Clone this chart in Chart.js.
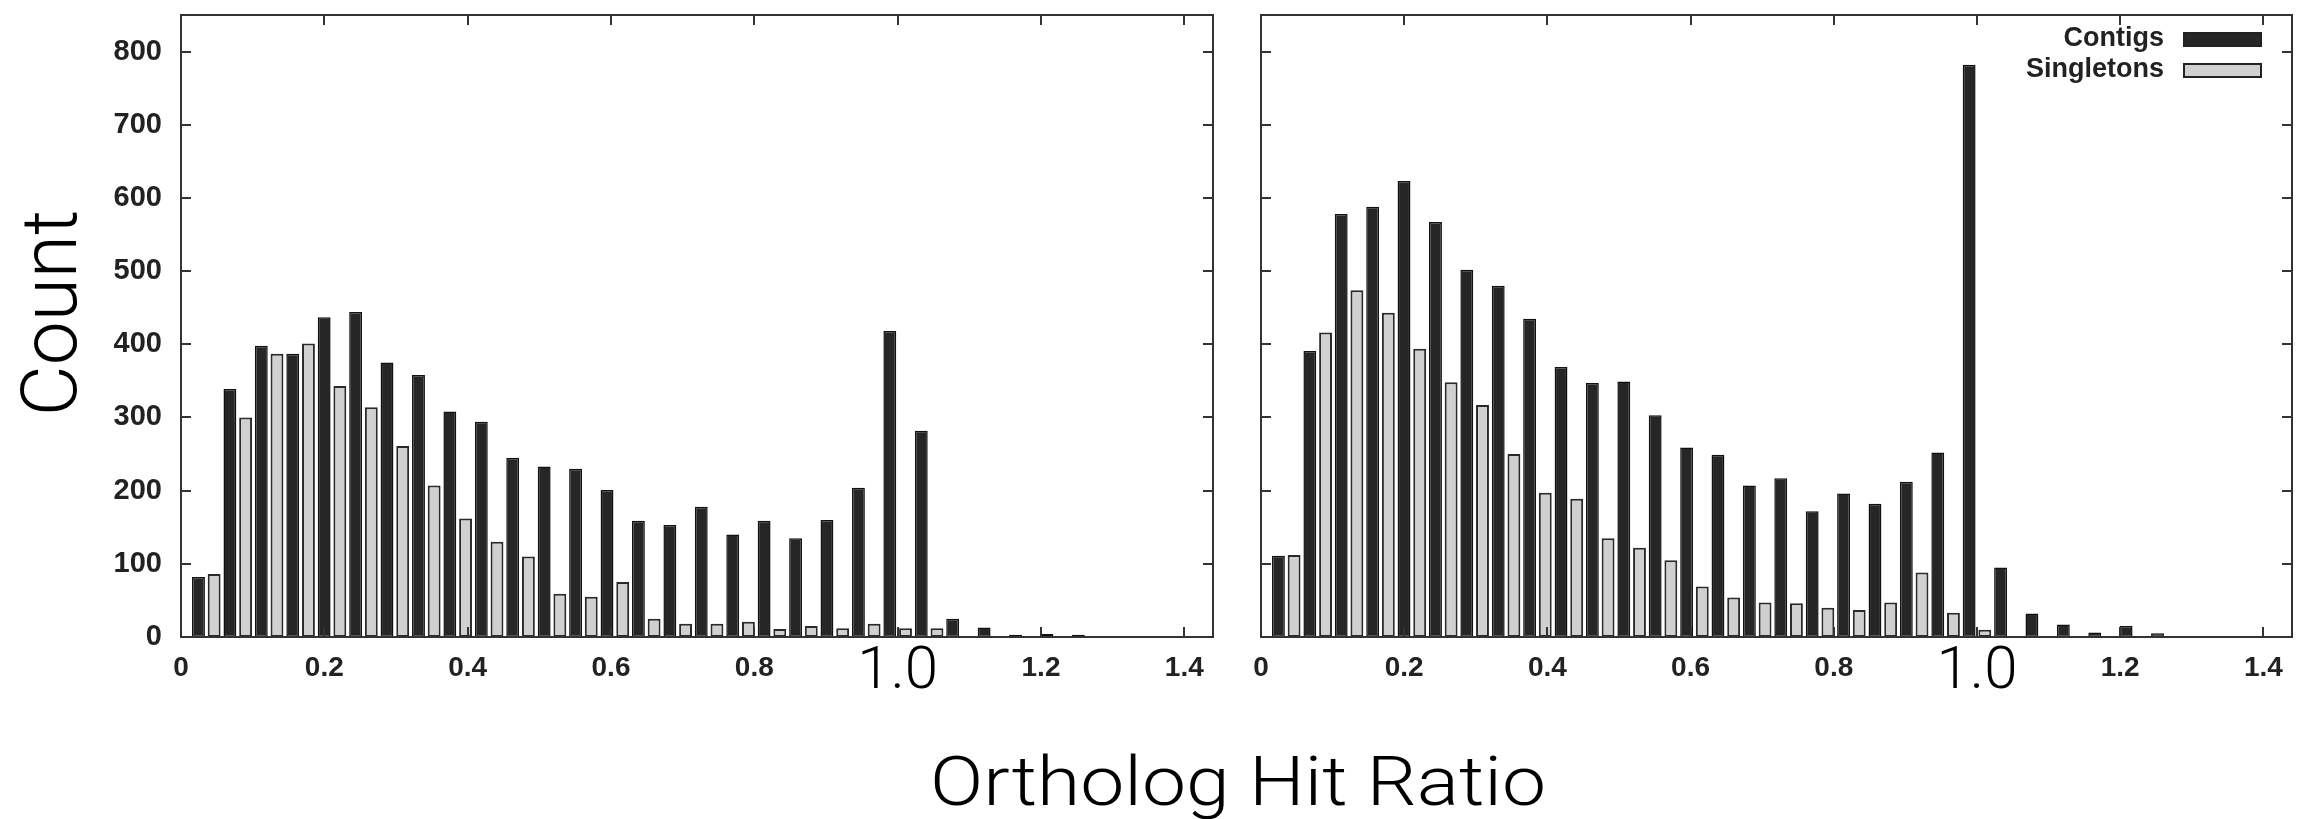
<!DOCTYPE html>
<html>
<head>
<meta charset="utf-8">
<script src="https://cdn.jsdelivr.net/npm/chart.js"></script>
<style>
body { margin:0; background:#fff; width:2299px; height:819px; overflow:hidden; position:relative; }
canvas { position:absolute; top:0; }
#left { left:0; }
#right { left:1236px; }
.title { position:absolute; font-family:Roboto, "Open Sans", "Liberation Sans", sans-serif; font-weight:300; color:#000; white-space:nowrap; text-align:center; }
#ytitle { font-size:77px; line-height:80px; width:400px; height:80px; left:-150px; top:273px; transform:rotate(-90deg) scaleX(1.02); }
#xtitle { font-size:69px; line-height:69px; width:1000px; left:738px; top:747px; transform:scaleX(1.14); }
</style>
</head>
<body>
<canvas id="left" width="1236" height="720"></canvas>
<canvas id="right" width="1063" height="720"></canvas>
<div id="ytitle" class="title">Count</div>
<div id="xtitle" class="title">Ortholog Hit Ratio</div>
<script>
// bin centres (ortholog hit ratio)
var binCenters = [0.0353, 0.0792, 0.1230, 0.1669, 0.2107, 0.2546, 0.2984, 0.3423, 0.3861, 0.4300,
                  0.4738, 0.5177, 0.5615, 0.6054, 0.6492, 0.6931, 0.7369, 0.7808, 0.8246, 0.8685,
                  0.9123, 0.9562, 1.0000, 1.0439, 1.0877, 1.1316, 1.1754, 1.2193, 1.2631, 1.3070];
var seriesNames = ['Contigs', 'Singletons'];

// left panel
var contigsA = [82, 339, 398, 387, 437, 444, 375, 358, 308, 294,
                245, 233, 230, 201, 159, 153, 178, 140, 159, 135,
                160, 204, 418, 282, 25, 13, 3, 4, 3, 1];
var singletonsA = [86, 300, 387, 401, 343, 314, 261, 207, 162, 130,
                   110, 59, 55, 75, 25, 18, 18, 21, 11, 15,
                   12, 18, 12, 12, 0, 0, 0, 0, 0, 0];

// right panel
var contigsB = [111, 391, 578, 588, 623, 567, 502, 480, 435, 369,
                347, 349, 303, 259, 249, 207, 217, 172, 196, 182,
                212, 252, 782, 95, 32, 17, 6, 15, 5, 1];
var singletonsB = [112, 416, 474, 443, 394, 348, 317, 250, 197, 189,
                   135, 122, 105, 69, 54, 47, 46, 40, 37, 47,
                   88, 33, 10, 0, 0, 0, 0, 0, 0, 0];

var xTickLabels = ['0', '0.2', '0.4', '0.6', '0.8', '1.0', '1.2', '1.4'];
var yTickLabels = ['0', '100', '200', '300', '400', '500', '600', '700', '800'];

var tickFont = { family: '"Liberation Sans", Arial, sans-serif', size: 28, weight: 'bold' };
var bigFont = { family: 'Roboto, "Open Sans", "Liberation Sans", sans-serif', size: 60, weight: '300', lineHeight: 0.73 };

// gnuplot style box + inward ticks
var framePlugin = {
    id: 'frame',
    afterDatasetsDraw: function(chart) {
        var ctx = chart.ctx, a = chart.chartArea;
        var xs = chart.scales.x, ys = chart.scales.y;
        ctx.save();
        ctx.strokeStyle = '#333';
        ctx.lineWidth = 2;
        ctx.strokeRect(a.left, a.top, a.right - a.left, a.bottom - a.top);
        ctx.beginPath();
        ys.ticks.forEach(function(t) {
            var y = Math.round(ys.getPixelForValue(t.value));
            ctx.moveTo(a.left, y); ctx.lineTo(a.left + 10, y);
            ctx.moveTo(a.right, y); ctx.lineTo(a.right - 10, y);
        });
        xs.ticks.forEach(function(t) {
            var x = Math.round(xs.getPixelForValue(t.value));
            ctx.moveTo(x, a.bottom); ctx.lineTo(x, a.bottom - 10);
            ctx.moveTo(x, a.top); ctx.lineTo(x, a.top + 10);
        });
        ctx.stroke();
        ctx.restore();
    }
};

// legend: label on the left, sample box on the right
var boxLegend = {
    id: 'boxLegend',
    afterDraw: function(chart) {
        if (!chart.options.plugins.boxLegend || !chart.options.plugins.boxLegend.show) return;
        var ctx = chart.ctx, a = chart.chartArea;
        ctx.save();
        chart.data.datasets.forEach(function(ds, i) {
            var bx = a.right - 109, by = a.top + 17 + i * 31;
            ctx.fillStyle = ds.backgroundColor;
            ctx.fillRect(bx, by, 79, 15);
            ctx.strokeStyle = '#222';
            ctx.lineWidth = 2;
            ctx.strokeRect(bx + 1, by + 1, 77, 13);
            ctx.fillStyle = '#222';
            ctx.font = 'bold 27px "Liberation Sans", Arial, sans-serif';
            ctx.textAlign = 'right';
            ctx.textBaseline = 'alphabetic';
            ctx.fillText(ds.label, bx - 19, by + 14);
        });
        ctx.restore();
    }
};

function makeChart(id, contigs, singletons, yWidth, padRight, showYLabels, showLegend) {
    return new Chart(document.getElementById(id), {
        type: 'bar',
        data: {
            datasets: [{
                label: seriesNames[0],
                data: binCenters.map(function(x, i) { return { x: x, y: contigs[i] }; }),
                backgroundColor: '#262626',
                borderColor: '#111',
                borderWidth: 1.5,
                borderSkipped: false
            }, {
                label: seriesNames[1],
                data: binCenters.map(function(x, i) { return { x: x, y: singletons[i] }; }),
                backgroundColor: '#d0d0d0',
                borderColor: '#2a2a2a',
                borderWidth: 2,
                borderSkipped: false
            }]
        },
        options: {
            responsive: false,
            animation: false,
            categoryPercentage: 1.0,
            barPercentage: 0.82,
            layout: { padding: { top: 15, right: padRight, left: 0, bottom: 0 } },
            plugins: {
                legend: { display: false },
                tooltip: { enabled: false },
                boxLegend: { show: showLegend }
            },
            scales: {
                x: {
                    type: 'linear',
                    offset: false,
                    min: 0,
                    max: 1.44,
                    grid: { display: false, drawTicks: false, offset: false },
                    border: { display: false },
                    afterFit: function(s) { s.height = 83; s.paddingLeft = 0; s.paddingRight = 0; },
                    ticks: {
                        stepSize: 0.2,
                        includeBounds: false,
                        maxRotation: 0,
                        padding: 14,
                        color: function(c) { return Math.abs(c.tick.value - 1) < 1e-9 ? '#000' : '#222'; },
                        font: function(c) { return (c.tick && Math.abs(c.tick.value - 1) < 1e-9) ? bigFont : tickFont; },
                        callback: function(v, i) { return xTickLabels[i]; }
                    }
                },
                y: {
                    min: 0,
                    max: 850,
                    grid: { display: false, drawTicks: false },
                    border: { display: false },
                    afterFit: function(s) { s.width = yWidth; s.paddingTop = 0; s.paddingBottom = 0; },
                    ticks: {
                        display: showYLabels,
                        stepSize: 100,
                        includeBounds: false,
                        padding: 19,
                        color: '#222',
                        font: { family: '"Liberation Sans", Arial, sans-serif', size: 29, weight: 'bold' },
                        callback: function(v, i) { return yTickLabels[i]; }
                    }
                }
            }
        },
        plugins: [framePlugin, boxLegend]
    });
}

makeChart('left', contigsA, singletonsA, 181, 23, true, false);
makeChart('right', contigsB, singletonsB, 25, 7, false, true);
</script>
</body>
</html>
